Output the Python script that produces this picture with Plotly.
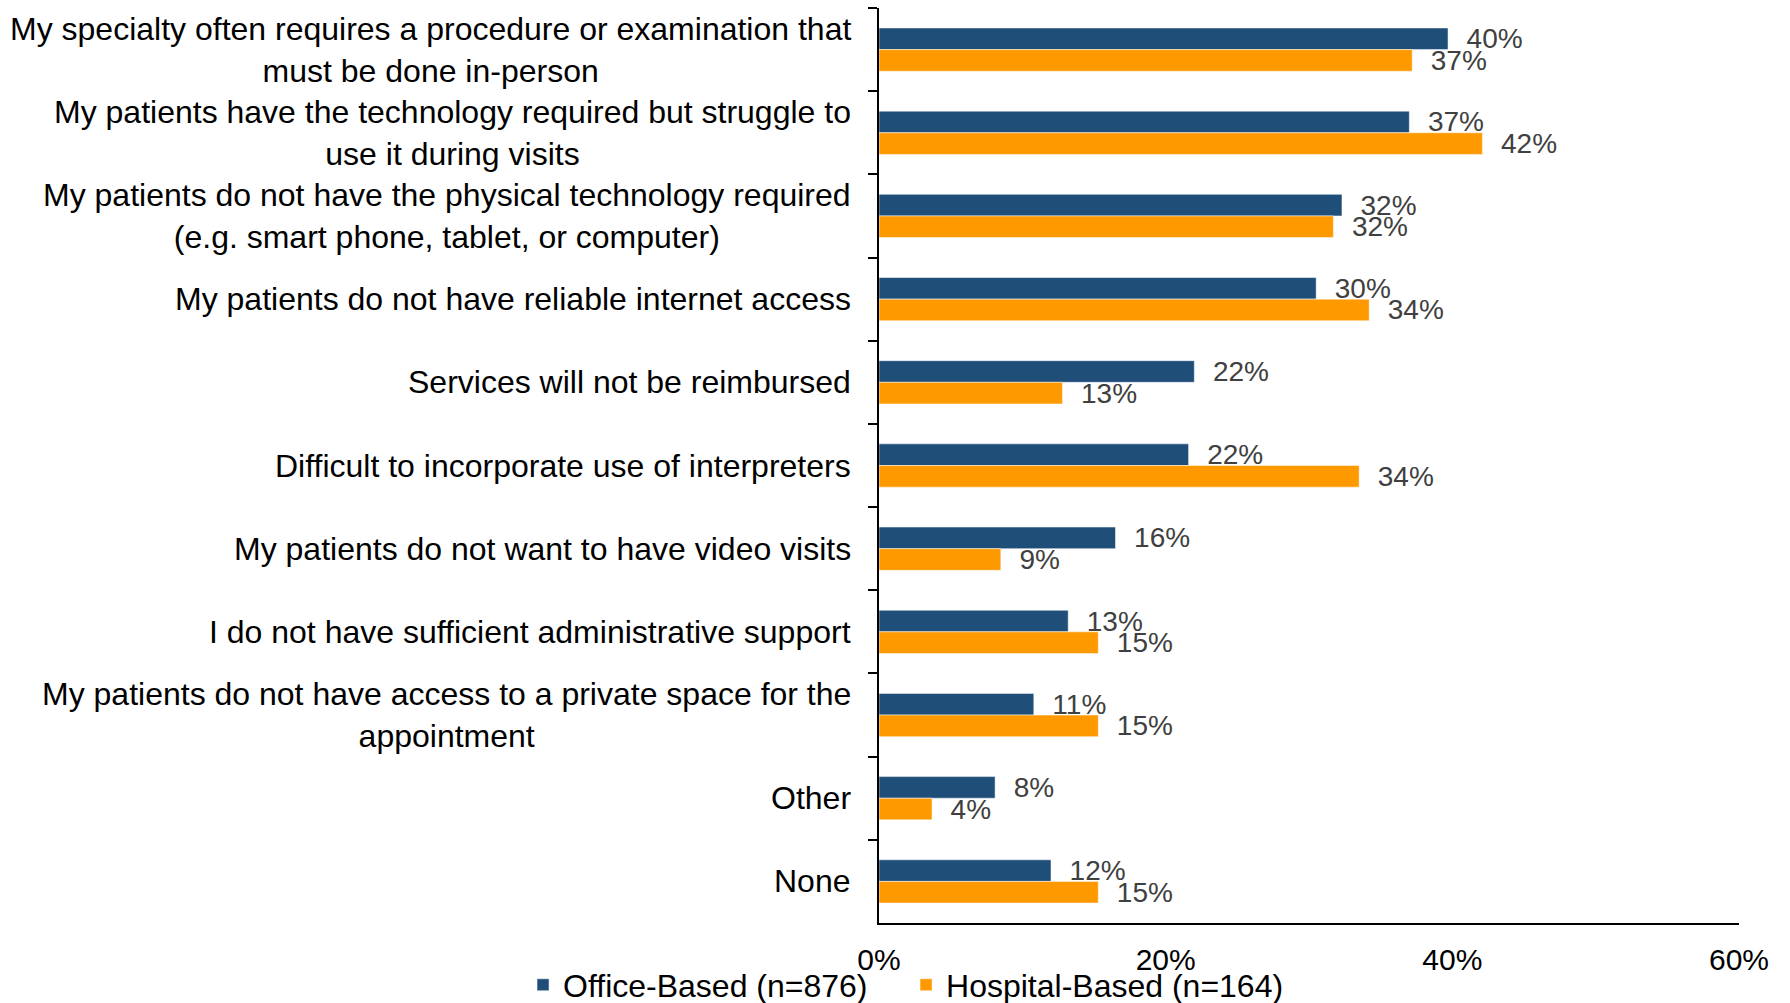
import plotly.graph_objects as go

categories = [
    "My specialty often requires a procedure or examination that<br>must be done in-person",
    "My patients have the technology required but struggle to<br>use it during visits",
    "My patients do not have the physical technology required<br>(e.g. smart phone, tablet, or computer)",
    "My patients do not have reliable internet access",
    "Services will not be reimbursed",
    "Difficult to incorporate use of interpreters",
    "My patients do not want to have video visits",
    "I do not have sufficient administrative support",
    "My patients do not have access to a private space for the<br>appointment",
    "Other",
    "None",
]
office_values = [39.7, 37.0, 32.3, 30.5, 22.0, 21.6, 16.5, 13.2, 10.8, 8.1, 12.0]
hospital_values = [37.2, 42.1, 31.7, 34.2, 12.8, 33.5, 8.5, 15.3, 15.3, 3.7, 15.3]
office_labels = [40, 37, 32, 30, 22, 22, 16, 13, 11, 8, 12]
hospital_labels = [37, 42, 32, 34, 13, 34, 9, 15, 15, 4, 15]
series_names = ["Office-Based (n=876)", "Hospital-Based (n=164)"]
x_ticks = [0, 20, 40, 60]
x_tick_text = ["0%", "20%", "40%", "60%"]

FONT = "Liberation Sans, Arial, sans-serif"
NB = "\u00a0\u00a0"

fig = go.Figure()
fig.add_trace(go.Bar(
    y=categories, x=office_values, orientation="h", name=series_names[0],
    marker=dict(color="#1F4E79", line=dict(color="rgba(255,255,255,0.5)", width=1)),
    text=[f"{NB}{v}%" for v in office_labels], textposition="outside",
    textfont=dict(size=28, color="#404040", family=FONT),
    constraintext="none", cliponaxis=False, hoverinfo="skip",
))
fig.add_trace(go.Bar(
    y=categories, x=hospital_values, orientation="h", name=series_names[1],
    marker=dict(color="#FF9900", line=dict(color="rgba(255,255,255,0.5)", width=1)),
    text=[f"{NB}{v}%" for v in hospital_labels], textposition="outside",
    textfont=dict(size=28, color="#404040", family=FONT),
    constraintext="none", cliponaxis=False, hoverinfo="skip",
))

for c in categories:
    fig.add_annotation(
        x=0, y=c, xref="x", yref="y", text=c, showarrow=False,
        xanchor="right", yanchor="middle", align="center", xshift=-26,
        font=dict(size=32, color="#000000", family=FONT),
    )

fig.update_layout(
    width=1790, height=1003,
    margin=dict(l=879, r=51, t=8, b=80, autoexpand=False),
    paper_bgcolor="white", plot_bgcolor="white",
    barmode="group", bargap=0.48, bargroupgap=0,
    font=dict(family=FONT, color="#000000"),
    showlegend=True,
    legend=dict(
        orientation="h", xref="container", yref="container",
        x=0.2922, y=0.018, xanchor="left", yanchor="middle",
        font=dict(size=32, color="#000000", family=FONT),
        itemwidth=30, entrywidth=338, entrywidthmode="pixels",
        bgcolor="rgba(0,0,0,0)",
    ),
    xaxis=dict(
        range=[0, 60], tickvals=x_ticks, ticktext=x_tick_text,
        showgrid=False, zeroline=False, showline=True, linecolor="#000000", linewidth=2,
        ticks="", tickfont=dict(size=30, color="#000000", family=FONT),
        ticklabelstandoff=9, fixedrange=True, automargin=False,
    ),
    yaxis=dict(
        autorange="reversed", showgrid=False, zeroline=False, showline=True,
        linecolor="#000000", linewidth=2, ticks="outside", tickson="boundaries",
        ticklen=9, tickwidth=2, tickcolor="#000000", showticklabels=False,
        fixedrange=True, automargin=False,
    ),
)

fig.write_html("out.html")
